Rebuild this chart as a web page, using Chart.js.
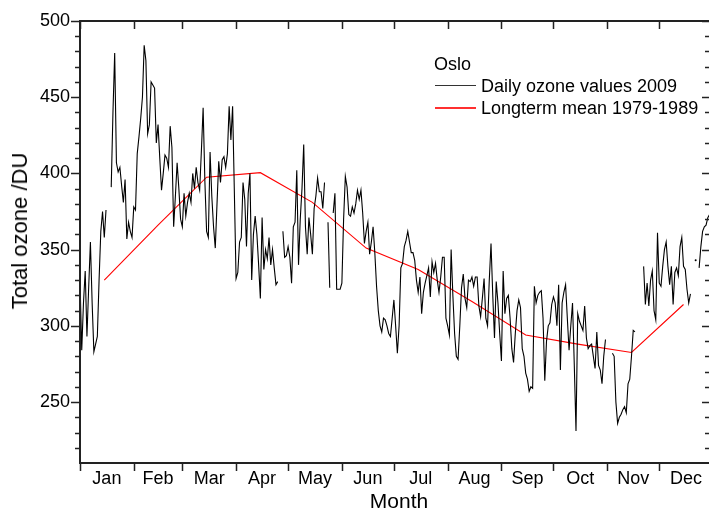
<!DOCTYPE html>
<html><head><meta charset="utf-8">
<script src="https://cdn.jsdelivr.net/npm/chart.js@4.4.1/dist/chart.umd.min.js"></script>
<style>
html,body{margin:0;padding:0;background:#fff;overflow:hidden;width:709px;height:509px;}
#wrap{position:relative;width:716px;height:509px;}
canvas{display:block;}
.leg{position:absolute;font-family:"Liberation Sans",Arial,sans-serif;font-size:18px;color:#000;white-space:nowrap;line-height:18px;}
.ttl{position:absolute;font-family:"Liberation Sans",Arial,sans-serif;color:#000;white-space:nowrap;transform-origin:center center;}
.ln{position:absolute;width:41px;}
</style></head><body>
<div id="wrap">
<canvas id="c" width="716" height="509" style="width:716px;height:509px"></canvas>
<div class="leg" style="left:434px;top:55px;">Oslo</div>
<div class="ln" style="left:435px;top:85px;height:1px;background-color:#333333;"></div>
<div class="leg" style="left:481px;top:77px;">Daily ozone values 2009</div>
<div class="ln" style="left:435px;top:107px;height:2px;background-color:#ff3030;"></div>
<div class="leg" style="left:481px;top:99px;">Longterm mean 1979-1989</div>
<div class="ttl" style="left:399px;top:500px;font-size:21px;line-height:21px;transform:translate(-50%,-50%);">Month</div>
<div class="ttl" style="left:20px;top:231px;font-size:22px;line-height:22px;transform:translate(-50%,-50%) rotate(-90deg);">Total ozone /DU</div>
</div>
<script>
// ---- data ----
const monthNames = ['Jan','Feb','Mar','Apr','May','Jun','Jul','Aug','Sep','Oct','Nov','Dec'];
const monthStarts = [0,31,59,90,120,151,181,212,243,273,304,334,365];
const yTickValues = [250,300,350,400,450,500];
const meanDays = [14,45,73,104,134,165,195,226,257,287,318,348];
const meanValues = [330,366,397.5,400.5,381,351,337,316,294,288,282.5,314];
// daily ozone 2009, index = day of year (0 = 1 Jan), null = missing
const ozone2009 = [
330,284,315,336,293,325,355,315,283,288,293,330,362,375,358,376,null,null,391,440,
479,407,401,404,392,381,396,357,368,362,358,378,376,413,424,436,450,484,474,426,
432,460,458,456,420,432,410,389,400,412,410,404,431,417,365,385,407,390,370,365,
387,372,381,387,381,400,390,404,394,389,415,443,395,362,358,414,385,365,351,380,
408,394,409,411,404,413,444,422,444,388,331,335,355,358,394,383,352,387,400,330,
360,372,360,340,318,371,337,350,344,358,340,350,338,327,329,null,null,362,345,346,
352,345,328,365,368,402,340,370,390,419,365,347,371,360,347,377,385,397,388,388,
377,394,null,368,325,null,374,387,324,324,324,328,370,398,391,373,372,378,374,380,
389,383,389,374,354,362,368,347,355,365,348,326,310,300,296,305,304,300,295,293,
305,317,300,282,300,338,341,352,356,362,355,348,348,343,330,322,332,308,322,328,
333,338,319,342,335,341,330,322,332,345,345,305,300,294,350,320,295,280,278,300,
325,334,318,312,330,329,332,326,332,332,313,306,318,331,305,300,330,354,320,292,
329,315,295,277,336,308,318,320,305,285,276,295,310,317,312,285,280,269,265,257,
260,259,326,315,320,322,323,305,264,290,300,302,314,319,315,300,327,271,315,322,
327,305,284,300,315,275,231,308,303,300,297,313,292,285,287,288,280,272,296,274,
271,262,280,291,null,null,null,282,280,250,236,240,242,245,247,243,262,265,280,297,
296,null,null,null,null,339,314,328,313,330,336,310,304,361,328,326,339,350,355,339,
327,339,314,335,338,333,352,358,339,337,324,315,321,null,null,343,null,338,352,362,
365,366,371,373,374
];
// ---- chart ----
const FONT = '"Liberation Sans", Arial, sans-serif';
const monthMids = monthNames.map((m,i)=>(monthStarts[i]+monthStarts[i+1])/2);
const dailyPts = ozone2009.map((v,i)=>({x:i,y:v}));
const meanPts = meanDays.map((d,i)=>({x:d,y:meanValues[i]}));
function isolated(i){
  return ozone2009[i]!==null && (i===0||ozone2009[i-1]===null) && (i===ozone2009.length-1||ozone2009[i+1]===null);
}
const framePlugin = {
  id:'frame',
  afterDraw(chart){
    const {ctx, chartArea:a, scales:{x,y}} = chart;
    ctx.save();
    ctx.strokeStyle='#222'; ctx.lineWidth=1.5;
    ctx.beginPath();
    for(let v=220; v<=500; v+=10){
      const py=Math.round(y.getPixelForValue(v))+0.5;
      const major = v%50===0;
      ctx.moveTo(a.left-(major?9:5),py); ctx.lineTo(a.left,py);
      ctx.moveTo(a.right,py); ctx.lineTo(a.right-(major?11:8),py);
    }
    for(const d of monthStarts){
      const px=Math.round(x.getPixelForValue(d))+0.5;
      ctx.moveTo(px,a.bottom); ctx.lineTo(px,a.bottom+8);
      ctx.moveTo(px,a.top); ctx.lineTo(px,a.top+8);
    }
    ctx.stroke();
    ctx.lineWidth=2; ctx.strokeStyle='#222';
    ctx.strokeRect(a.left,a.top,a.right-a.left,a.bottom-a.top);
    ctx.restore();
  }
};
new Chart(document.getElementById('c'),{
  type:'line',
  data:{datasets:[
    {label:'Daily ozone values 2009',data:dailyPts,borderColor:'#000',borderWidth:1.1,
     pointRadius:c=>isolated(c.dataIndex)?1:0,pointBackgroundColor:'#000',pointBorderWidth:0,
     spanGaps:false,tension:0},
    {label:'Longterm mean 1979-1989',data:meanPts,borderColor:'#ff0000',borderWidth:1.1,pointRadius:0,tension:0}
  ]},
  options:{
    responsive:false,animation:false,devicePixelRatio:1,
    layout:{padding:{top:21,right:3,left:0,bottom:0}},
    plugins:{legend:{display:false},tooltip:{enabled:false}},
    events:[],
    scales:{
      x:{type:'linear',min:0,max:365,position:'bottom',
        afterBuildTicks:s=>{s.ticks=monthMids.map(v=>({value:v}));},
        ticks:{autoSkip:false,maxRotation:0,color:'#000',font:{family:FONT,size:18},padding:5,
          callback:(v,i)=>monthNames[i]},
        grid:{display:false,drawTicks:false},border:{display:false},
        title:{display:false},
        afterFit:s=>{s.height=46;}
      },
      y:{min:210,max:500,
        afterBuildTicks:s=>{s.ticks=yTickValues.map(v=>({value:v}));},
        ticks:{color:'#000',font:{family:FONT,size:18},padding:10},
        grid:{display:false,drawTicks:false},border:{display:false},
        title:{display:false},
        afterFit:s=>{s.width=80;}
      }
    }
  },
  plugins:[framePlugin]
});
</script>
</body></html>
